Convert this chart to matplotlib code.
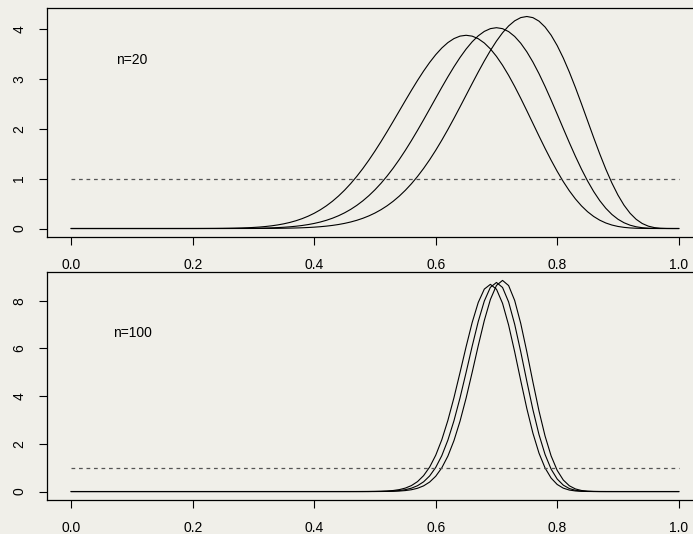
import math
import numpy as np
import matplotlib
matplotlib.use('Agg')
import matplotlib.pyplot as plt

# sample sizes and observed successes (posterior Beta(y+1, n-y+1), uniform prior)
n_small = 20
y_small = [13, 14, 15]
n_large = 100
y_large = [69, 70, 71]

x_ticks = [0.0, 0.2, 0.4, 0.6, 0.8, 1.0]
x_labels = ['0.0', '0.2', '0.4', '0.6', '0.8', '1.0']
top_yticks = [0, 1, 2, 3, 4]
bot_yticks = [0, 2, 4, 6, 8]

theta = np.linspace(0, 1, 101)


def beta_pdf(x, a, b):
    logc = math.lgamma(a + b) - math.lgamma(a) - math.lgamma(b)
    with np.errstate(divide='ignore'):
        out = np.exp(logc + (a - 1) * np.log(x) + (b - 1) * np.log1p(-x))
    return np.nan_to_num(out)


bg = '#f0efe9'
plt.rcParams['font.family'] = ['Liberation Sans', 'DejaVu Sans']
fig = plt.figure(figsize=(6.93, 5.34), dpi=100, facecolor=bg)

panels = [
    (n_small, y_small, top_yticks, 'n=20', 3.38, [0.0678, 0.5562, 0.9466, 0.4288]),
    (n_large, y_large, bot_yticks, 'n=100', 6.65, [0.0678, 0.0637, 0.9466, 0.4270]),
]

for n, ys, yt, label, ty, pos in panels:
    ax = fig.add_axes(pos)
    ax.set_facecolor(bg)
    ymax = 0
    for y in ys:
        d = beta_pdf(theta, y + 1, n - y + 1)
        ymax = max(ymax, d.max())
        ax.plot(theta, d, color='black', lw=0.8)
    ax.plot([0, 1], [1, 1], color='#555555', lw=0.9, ls=(0, (3, 3)))
    ax.text(0.1, ty, label, ha='center', va='center', fontsize=10)
    ax.set_xlim(-0.04, 1.04)
    ax.set_ylim(-0.04 * ymax, 1.04 * ymax)
    ax.set_xticks(x_ticks)
    ax.set_xticklabels(x_labels)
    ax.set_yticks(yt)
    ax.set_yticklabels([str(v) for v in yt], rotation=90, va='center')
    ax.tick_params(direction='out', length=6, width=0.8, labelsize=10, pad=9)
    for s in ax.spines.values():
        s.set_linewidth(0.9)
    ax.spines['right'].set_visible(False)

fig.savefig('out.png', dpi=100, facecolor=bg)
